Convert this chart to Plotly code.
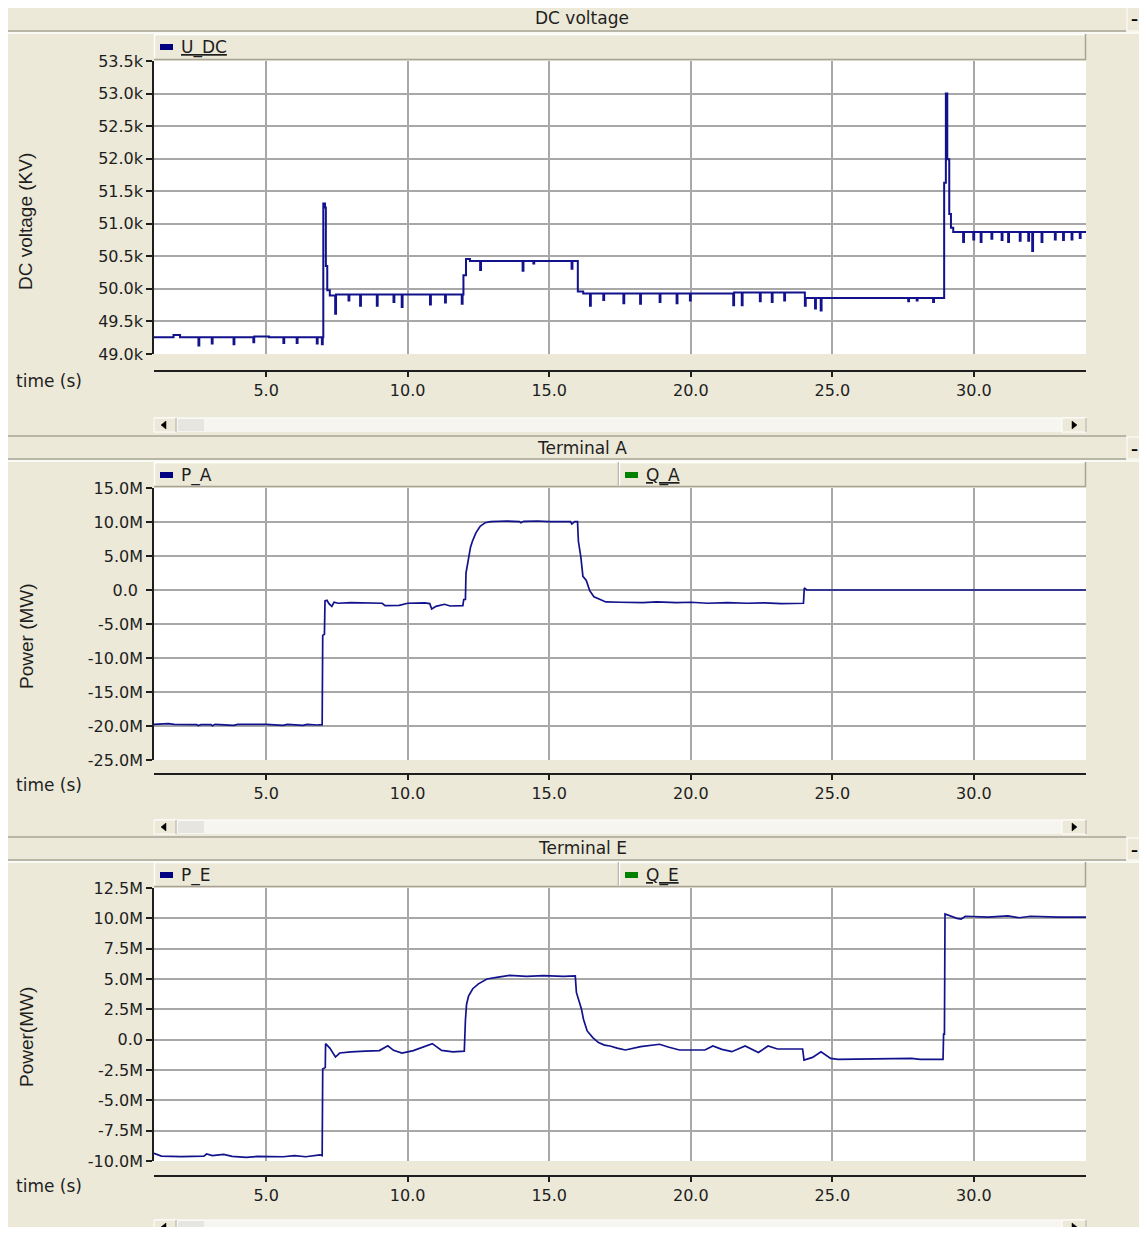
import plotly.graph_objects as go

# Page offset (browser body margin) and figure size so the page fits the window exactly
OX, OY = 8, 8
FW, FH = 1131, 1219

def fx(x):
    return (x - OX) / FW

def fy(y):
    return 1 - (y - OY) / FH

# ---------------- data ----------------
time_ticks = [5, 10, 15, 20, 25, 30]
time_labels = ["5.0", "10.0", "15.0", "20.0", "25.0", "30.0"]

udc_ticks = [49.0, 49.5, 50.0, 50.5, 51.0, 51.5, 52.0, 52.5, 53.0, 53.5]
udc_labels = ["49.0k", "49.5k", "50.0k", "50.5k", "51.0k", "51.5k", "52.0k", "52.5k", "53.0k", "53.5k"]

pa_ticks = [-25, -20, -15, -10, -5, 0, 5, 10, 15]
pa_labels = ["-25.0M", "-20.0M", "-15.0M", "-10.0M", "-5.0M", "0.0 ", "5.0M", "10.0M", "15.0M"]

pe_ticks = [-10, -7.5, -5, -2.5, 0, 2.5, 5, 7.5, 10, 12.5]
pe_labels = ["-10.0M", "-7.5M", "-5.0M", "-2.5M", "0.0", "2.5M", "5.0M", "7.5M", "10.0M", "12.5M"]

# U_DC (kV) vs time (s)
udc_t = [1.04, 1.73, 1.96, 2.61, 2.64, 3.08, 3.11, 3.85, 3.88, 4.55,
         4.58, 5.10, 5.61, 5.64, 6.08, 6.11, 6.79, 6.82, 6.97, 7.00,
         7.02, 7.08, 7.11, 7.16, 7.25, 7.44, 7.47, 7.91, 7.94, 8.32,
         8.35, 8.91, 8.94, 9.50, 9.53, 9.79, 9.82, 10.79, 10.82, 11.32,
         11.35, 11.91, 11.94, 11.97, 12.06, 12.20, 12.56, 12.59, 14.06, 14.09,
         14.44, 14.47, 15.79, 15.82, 16.01, 16.20, 16.44, 16.47, 16.91, 16.94,
         17.62, 17.65, 18.21, 18.24, 18.90, 18.93, 19.50, 19.53, 19.97, 20.00,
         21.50, 21.53, 21.80, 21.83, 22.44, 22.47, 22.86, 22.89, 23.30, 23.33,
         24.03, 24.06, 24.39, 24.42, 24.59, 24.62, 27.68, 27.71, 27.98, 28.01,
         28.56, 28.59, 28.95, 29.01, 29.06, 29.13, 29.19, 29.27, 29.62, 29.65,
         29.98, 30.01, 30.24, 30.27, 30.62, 30.65, 30.98, 31.01, 31.21, 31.24,
         31.62, 31.65, 31.92, 31.95, 32.06, 32.09, 32.39, 32.42, 32.86, 32.89,
         33.15, 33.18, 33.45, 33.48, 33.74, 33.77, 33.96]
udc_v = [49.256, 49.29, 49.256, 49.13, 49.256, 49.16, 49.256, 49.15, 49.256, 49.18,
         49.27, 49.256, 49.17, 49.256, 49.17, 49.256, 49.16, 49.256, 49.15, 49.256,
         51.31, 51.25, 50.35, 49.98, 49.90, 49.62, 49.915, 49.82, 49.915, 49.74,
         49.915, 49.74, 49.915, 49.80, 49.915, 49.72, 49.915, 49.76, 49.915, 49.79,
         49.915, 49.77, 49.915, 50.21, 50.46, 50.43, 50.29, 50.43, 50.28, 50.43,
         50.39, 50.43, 50.31, 50.43, 49.96, 49.93, 49.74, 49.93, 49.83, 49.93,
         49.78, 49.93, 49.77, 49.93, 49.80, 49.93, 49.78, 49.93, 49.82, 49.93,
         49.75, 49.946, 49.75, 49.946, 49.81, 49.946, 49.80, 49.946, 49.82, 49.946,
         49.74, 49.86, 49.70, 49.86, 49.67, 49.86, 49.81, 49.86, 49.82, 49.86,
         49.80, 49.86, 51.63, 53.00, 51.99, 51.15, 50.94, 50.875, 50.72, 50.875,
         50.76, 50.875, 50.72, 50.875, 50.77, 50.875, 50.75, 50.875, 50.72, 50.875,
         50.74, 50.875, 50.74, 50.875, 50.58, 50.875, 50.72, 50.875, 50.76, 50.875,
         50.75, 50.875, 50.76, 50.875, 50.78, 50.875, 50.875]

# P_A (MW) vs time (s)
pa_t = [1.04, 1.55, 1.75, 2.55, 2.60, 2.70, 3.05, 3.10, 3.20, 3.85,
        4.00, 5.00, 5.60, 5.75, 6.30, 6.45, 6.80, 6.98, 7.00, 7.06,
        7.08, 7.15, 7.22, 7.32, 7.40, 7.55, 8.00, 8.60, 9.10, 9.20,
        9.70, 10.00, 10.60, 10.78, 10.85, 11.00, 11.30, 11.50, 11.95, 11.98,
        12.04, 12.06, 12.14, 12.22, 12.29, 12.41, 12.56, 12.74, 12.92, 13.50,
        13.95, 14.00, 14.10, 14.60, 15.00, 15.75, 15.80, 15.90, 16.00, 16.03,
        16.12, 16.19, 16.31, 16.43, 16.58, 16.76, 17.00, 17.50, 18.30, 18.80,
        19.50, 20.00, 20.60, 21.30, 22.00, 22.60, 23.20, 23.98, 24.01, 24.10,
        33.96]
pa_v = [-19.75, -19.65, -19.75, -19.8, -19.95, -19.8, -19.8, -19.95, -19.75, -19.9,
        -19.75, -19.75, -19.9, -19.75, -19.9, -19.75, -19.85, -19.8, -6.67, -6.5,
        -1.6, -1.5, -2.0, -2.4, -1.8, -1.95, -1.85, -1.9, -1.95, -2.3,
        -2.25, -1.95, -1.9, -2.0, -2.8, -2.4, -2.1, -2.35, -2.3, -1.4,
        -1.4, 2.5, 4.46, 6.3, 7.2, 8.4, 9.36, 9.9, 10.05, 10.15,
        10.05, 9.9, 10.1, 10.15, 10.05, 10.05, 9.7, 10.05, 10.05, 7.2,
        4.75, 2.0, 1.4, -0.1, -1.0, -1.37, -1.76, -1.8, -1.85, -1.75,
        -1.85, -1.8, -1.95, -1.85, -1.95, -1.9, -2.0, -1.95, 0.3, 0.0,
        0.0]

# P_E (MW) vs time (s)
pe_t = [1.04, 1.30, 2.00, 2.80, 2.90, 3.10, 3.50, 3.80, 4.30, 4.70,
        5.60, 6.00, 6.40, 6.90, 6.98, 7.00, 7.09, 7.10, 7.25, 7.45,
        7.60, 8.00, 8.50, 9.00, 9.30, 9.50, 9.80, 10.20, 10.87, 11.20,
        11.60, 12.00, 12.04, 12.08, 12.15, 12.30, 12.50, 12.80, 13.20, 13.60,
        14.20, 14.80, 15.50, 15.92, 15.96, 16.14, 16.21, 16.34, 16.54, 16.74,
        16.95, 17.15, 17.40, 17.69, 18.23, 18.90, 19.20, 19.60, 20.50, 20.78,
        21.10, 21.45, 21.92, 22.20, 22.39, 22.73, 23.06, 23.95, 24.00, 24.30,
        24.60, 24.94, 25.20, 27.80, 28.10, 28.91, 28.93, 28.96, 28.98, 29.40,
        29.55, 29.70, 30.50, 31.20, 31.60, 32.00, 33.00, 33.96]
pe_v = [-9.37, -9.59, -9.64, -9.60, -9.42, -9.55, -9.45, -9.62, -9.70, -9.62,
        -9.65, -9.55, -9.65, -9.50, -9.55, -2.42, -2.30, -0.33, -0.69, -1.43,
        -1.10, -1.00, -0.95, -0.90, -0.50, -0.88, -1.10, -0.90, -0.33, -0.88,
        -1.00, -0.95, 1.60, 2.90, 3.60, 4.20, 4.60, 5.00, 5.15, 5.30,
        5.22, 5.28, 5.22, 5.25, 3.89, 2.51, 1.68, 0.72, 0.17, -0.24,
        -0.45, -0.52, -0.70, -0.85, -0.57, -0.38, -0.60, -0.85, -0.85, -0.52,
        -0.80, -0.99, -0.52, -0.80, -1.05, -0.52, -0.77, -0.77, -1.68, -1.46,
        -0.99, -1.54, -1.63, -1.55, -1.63, -1.63, 0.45, 0.45, 10.36, 10.00,
        9.94, 10.17, 10.10, 10.20, 10.05, 10.17, 10.10, 10.10]

# ---------------- style ----------------
BEIGE = "#ECE9D8"
GRID = "#A8A8A8"
NAVY = "#12128C"
DARK = "#1E1E1E"
SHADOW = "#A7A496"
TICK_FONT = dict(family="DejaVu Sans, Verdana, sans-serif", size=16, color=DARK)
TXT_FONT = dict(family="DejaVu Sans, Verdana, sans-serif", size=17, color=DARK)
NARROW = dict(family="Liberation Sans, Arial, sans-serif", size=19, color=DARK)

panels = [
    dict(plot=(61, 354), axis=371, bar=(6, 31), title_y=18, title="DC voltage",
         leg=(34, 60), leg_y=47, scroll=(418, 432), ylab="DC voltage (KV)", ylab_y=222,
         time_y=381, yr=[49.0, 53.5], yt=udc_ticks, yl=udc_labels,
         legends=[("U_DC", True, "#000080")]),
    dict(plot=(488, 760), axis=774, bar=(436, 459), title_y=448, title="Terminal A",
         leg=(462, 487), leg_y=475, scroll=(820, 834), ylab="Power (MW)", ylab_y=636,
         time_y=785, yr=[-25, 15], yt=pa_ticks, yl=pa_labels,
         legends=[("P_A", False, "#000080"), ("Q_A", True, "#008000")]),
    dict(plot=(888, 1161), axis=1176, bar=(837, 860), title_y=848, title="Terminal E",
         leg=(862, 887), leg_y=875, scroll=(1220, 1234), ylab="Power(MW)", ylab_y=1037,
         time_y=1186, yr=[-10, 12.5], yt=pe_ticks, yl=pe_labels,
         legends=[("P_E", False, "#000080"), ("Q_E", True, "#008000")]),
]

fig = go.Figure()
fig.add_trace(go.Scatter(x=udc_t, y=udc_v, mode="lines", name="U_DC",
                         line=dict(color=NAVY, width=2, shape="hv"),
                         xaxis="x", yaxis="y", showlegend=False))
fig.add_trace(go.Scatter(x=pa_t, y=pa_v, mode="lines", name="P_A",
                         line=dict(color=NAVY, width=1.7),
                         xaxis="x2", yaxis="y2", showlegend=False))
fig.add_trace(go.Scatter(x=pe_t, y=pe_v, mode="lines", name="P_E",
                         line=dict(color=NAVY, width=1.7),
                         xaxis="x3", yaxis="y3", showlegend=False))

shapes = []
annotations = []
layout = {}

def rect(x0, y0, x1, y1, fill, line=None, lw=0, layer="above"):
    shapes.append(dict(type="rect", xref="paper", yref="paper",
                       x0=fx(x0), x1=fx(x1), y0=fy(y1), y1=fy(y0),
                       fillcolor=fill, layer=layer, line=dict(width=lw, color=line or fill)))

def hline(x0, x1, y, color, w=1):
    shapes.append(dict(type="line", xref="paper", yref="paper",
                       x0=fx(x0), x1=fx(x1), y0=fy(y), y1=fy(y),
                       line=dict(color=color, width=w)))

def vline(x, y0, y1, color, w=1):
    shapes.append(dict(type="line", xref="paper", yref="paper",
                       x0=fx(x), x1=fx(x), y0=fy(y0), y1=fy(y1),
                       line=dict(color=color, width=w)))

def tri(points, color):
    path = "M " + " L ".join(f"{fx(x)},{fy(y)}" for x, y in points) + " Z"
    shapes.append(dict(type="path", xref="paper", yref="paper", path=path,
                       fillcolor=color, line=dict(color=color, width=0.5)))

for i, p in enumerate(panels):
    sfx = "" if i == 0 else str(i + 1)
    layout["xaxis" + sfx] = dict(
        domain=[fx(154), fx(1086)], range=[1.04, 33.96], anchor="free",
        position=fy(p["axis"]), showline=True, linecolor=DARK, linewidth=1.5,
        ticks="outside", ticklen=5, tickwidth=1.5, tickcolor=DARK,
        tickmode="array", tickvals=time_ticks, ticktext=time_labels,
        tickfont=TICK_FONT, showgrid=True, gridcolor=GRID, gridwidth=1.5,
        zeroline=False, fixedrange=True, automargin=False)
    layout["yaxis" + sfx] = dict(
        domain=[fy(p["plot"][1]), fy(p["plot"][0])], range=p["yr"],
        anchor="x" + sfx, showline=True, linecolor=DARK, linewidth=1.5,
        ticks="outside", ticklen=6, tickwidth=1.5, tickcolor=DARK,
        tickmode="array", tickvals=p["yt"], ticktext=p["yl"],
        tickfont=TICK_FONT, showgrid=True, gridcolor=GRID, gridwidth=1.5,
        zeroline=False, fixedrange=True, automargin=False)

    # title bar
    b0, b1 = p["bar"]
    hline(OX, 1126, b0, "#FFFFFF" if i == 0 else SHADOW, 1.5)
    hline(OX, 1126, b1, SHADOW, 1.5)
    hline(OX, 1147, b1 + 2, "#FFFFFF", 1.5)
    annotations.append(dict(x=fx(582), y=fy(p["title_y"]), xref="paper", yref="paper",
                            text=p["title"], showarrow=False, font=TXT_FONT,
                            xanchor="center", yanchor="middle"))
    # minimize button (partly outside the visible page on the right)
    rect(1127, b0 + 1, 1147, b1, BEIGE, "#FFFFFF", 1)
    annotations.append(dict(x=fx(1134), y=fy((b0 + b1) / 2 + 1), xref="paper", yref="paper",
                            text="<b>–</b>", showarrow=False,
                            font=dict(family="DejaVu Sans", size=14, color="black"),
                            xanchor="center", yanchor="middle"))

    # legend bar cells
    l0, l1 = p["leg"]
    n = len(p["legends"])
    edges = [154, 619, 1086] if n == 2 else [154, 1086]
    for k, (name, under, col) in enumerate(p["legends"]):
        c0, c1 = edges[k], edges[k + 1]
        rect(c0, l0, c1, l1, BEIGE)
        hline(c0, c1, l0 + 0.5, "#FFFFFF", 1.5)
        vline(c0 + 0.5, l0, l1, "#FFFFFF", 1.5)
        hline(c0, c1, l1 - 0.5, SHADOW, 1.5)
        vline(c1 - 0.5, l0, l1, SHADOW, 1.5)
        mx = c0 + 6
        rect(mx, p["leg_y"] - 3, mx + 13, p["leg_y"] + 3, col)
        label = f"<u>{name}</u>" if under else name
        annotations.append(dict(x=fx(mx + 19), y=fy(p["leg_y"]), xref="paper", yref="paper",
                                text=label, showarrow=False, font=TXT_FONT,
                                xanchor="left", yanchor="middle"))

    # y-axis title
    annotations.append(dict(x=fx(26), y=fy(p["ylab_y"]), xref="paper", yref="paper",
                            text=p["ylab"], textangle=-90, showarrow=False, font=NARROW,
                            xanchor="center", yanchor="middle"))
    # time label
    annotations.append(dict(x=fx(14), y=fy(p["time_y"]), xref="paper", yref="paper",
                            text="time (s)", showarrow=False, font=TXT_FONT,
                            xanchor="left", yanchor="middle"))

    # scrollbar
    s0, s1 = p["scroll"]
    rect(154, s0, 1086, s1, "#F6F5F0")
    hline(154, 1086, s0, "#FFFFFF", 1)
    rect(154, s0, 176, s1, BEIGE, "#FFFFFF", 1)
    vline(176, s0, s1, SHADOW, 1)
    rect(178, s0 + 1, 204, s1 - 1, "#E6E5DF")
    rect(1062, s0, 1086, s1, BEIGE, "#FFFFFF", 1)
    vline(1086, s0, s1, SHADOW, 1)
    sc = (s0 + s1) / 2
    tri([(161, sc), (166, sc - 4), (166, sc + 4)], "black")
    tri([(1077, sc), (1072, sc - 4), (1072, sc + 4)], "black")

fig.update_layout(
    width=FW, height=FH, autosize=False,
    margin=dict(l=0, r=0, t=0, b=0, pad=0),
    paper_bgcolor=BEIGE, plot_bgcolor="white",
    showlegend=False, shapes=shapes, annotations=annotations,
    **layout,
)

fig.write_html("out.html", config={"displayModeBar": False})
